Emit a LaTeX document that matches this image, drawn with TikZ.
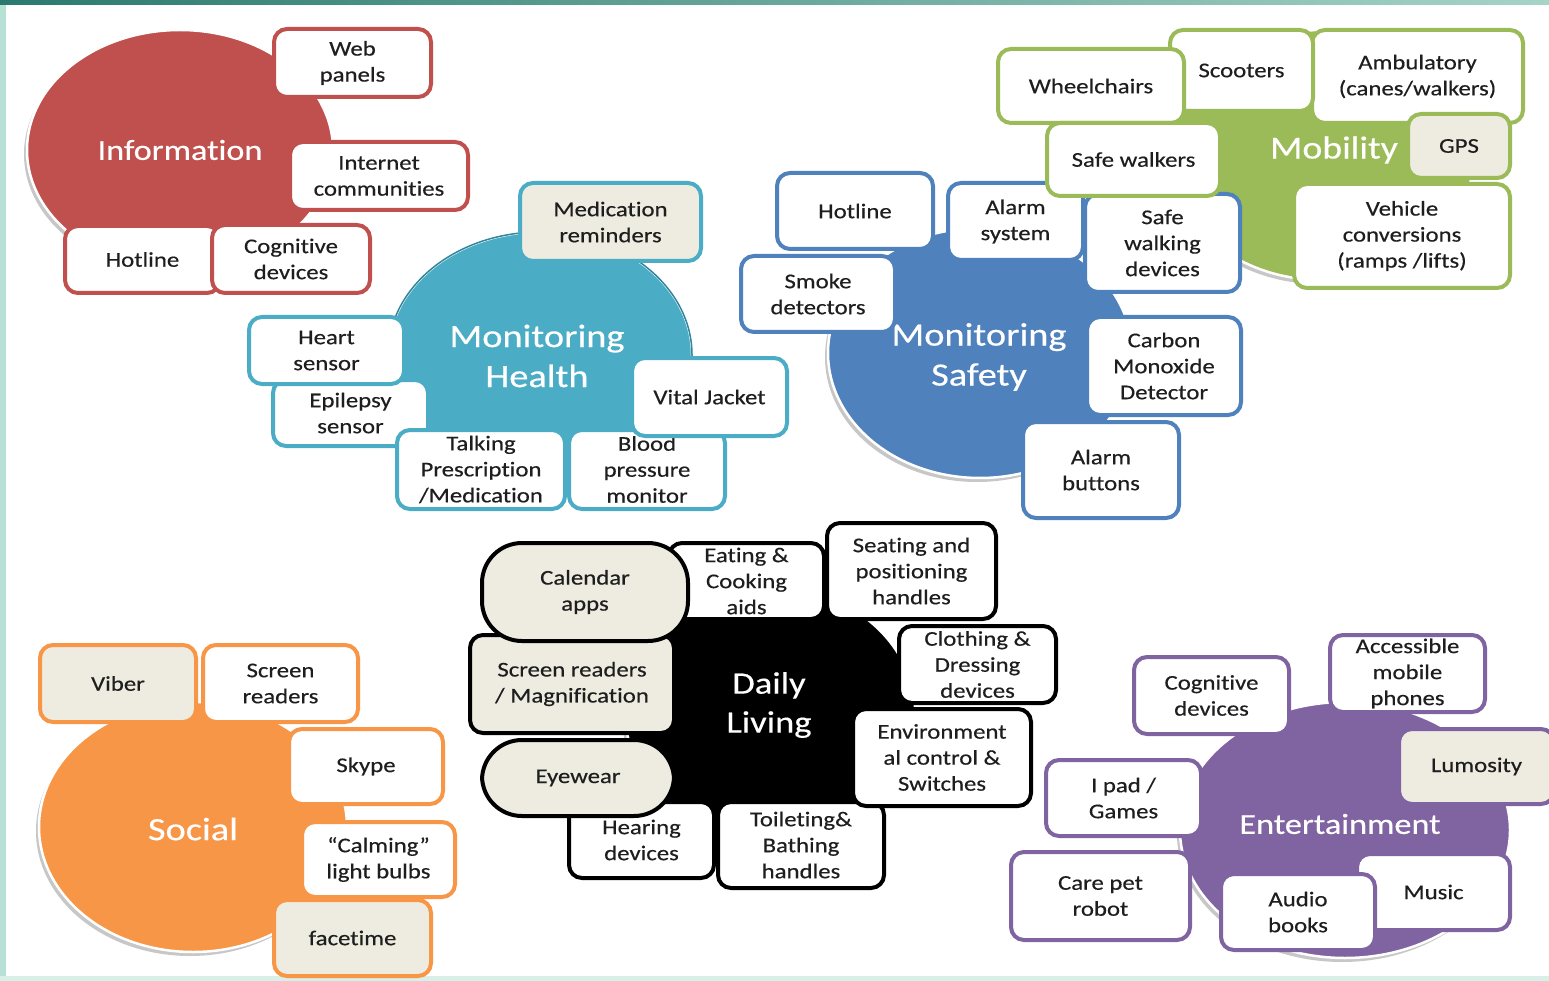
\documentclass[tikz,border=0pt]{standalone}
\usepackage{fontspec}
\setmainfont[FakeStretch=1.18, FakeBold=0.4, Ligatures=NoCommon]{Carlito}
\usetikzlibrary{shapes.geometric,shadows}
\definecolor{cRed}{HTML}{C0504D}
\definecolor{cTeal}{HTML}{4BACC6}
\definecolor{cTealD}{HTML}{31859C}
\definecolor{cBlue}{HTML}{4F81BD}
\definecolor{cGreen}{HTML}{9BBB59}
\definecolor{cOrange}{HTML}{F79646}
\definecolor{cPurple}{HTML}{8064A2}
\definecolor{beige}{HTML}{EEECE1}
\definecolor{txt}{HTML}{1E1E1E}
\definecolor{bandL}{HTML}{2B7A6F}
\definecolor{bandR}{HTML}{A6D4C6}
\definecolor{mint}{HTML}{B7E1D4}
\definecolor{mintB}{HTML}{D8F0E7}
\tikzset{
  itm/.style={draw=#1, rounded corners=13pt, line width=4pt, fill=white, align=center,
    inner sep=0pt, text=txt, font=\fontsize{21}{26}\selectfont},
  itmb/.style={itm=#1, fill=beige},
  stad/.style={itm=black, fill=beige, rounded corners=40pt},
  hub/.style={ellipse, inner sep=0pt, fill=#1, draw=white, line width=2.5pt,
    drop shadow={shadow xshift=-3pt, shadow yshift=-4pt, opacity=.22, fill=black}},
  hublbl/.style={text=white, align=center},
}
\newcommand\itembox[7]{\node[#2, minimum width={#5-#3-4}, minimum height={#6-#4-4}] (#1) at ({(#3+#5)/2},{(#4+#6)/2}) {#7};}
\newcommand\hubnode[6]{\node[hub=#6, minimum width={2*#4}, minimum height={2*#5}] (#1) at (#2,#3) {};}
\begin{document}
\begin{tikzpicture}[x=1pt,y=-1pt]
\useasboundingbox (0,0) rectangle (1549,981);
\clip (0,0) rectangle (1549,981);
\fill[white] (0,0) rectangle (1549,981);
% slide frame
\shade[left color=bandL, right color=bandR] (0,0) rectangle (1549,5);
\fill[mint] (0,5) rectangle (6,981);
\fill[mintB] (0,976) rectangle (1549,981);
% hubs
\hubnode{info}{180}{150}{153}{120}{cRed}
\hubnode{health}{540}{355}{152}{123}{cTeal}
\node[ellipse, minimum width=304, minimum height=246, draw=cTealD, line width=1.5pt] (healthrim) at (540,355) {};
\hubnode{safety}{980}{353}{152}{125}{cBlue}
\hubnode{mobil}{1322}{155}{152}{125}{cGreen}
\hubnode{daily}{770}{712}{145}{125}{black}
\hubnode{social}{193}{827}{154}{125}{cOrange}
\hubnode{enter}{1345}{830}{165}{128}{cPurple}
% hub labels
\node[hublbl, font=\fontsize{29}{36}\selectfont] (infoL) at (180,150) {Information};
\node[hublbl, font=\fontsize{32.5}{40}\selectfont] (healthL) at (537,356) {Monitoring\\Health};
\node[hublbl, font=\fontsize{32.5}{40}\selectfont] (safetyL) at (979,357) {Monitoring\\Safety};
\node[hublbl, font=\fontsize{32}{40}\selectfont] (mobilL) at (1334,150) {Mobility};
\node[hublbl, font=\fontsize{31}{39}\selectfont] (dailyL) at (769,705) {Daily\\Living};
\node[hublbl, font=\fontsize{32.5}{40}\selectfont] (socialL) at (193,829) {Social};
\node[hublbl, font=\fontsize{29}{36}\selectfont] (enterL) at (1340,824) {Entertainment};
% Information
\itembox{webp}{itm=cRed}{272}{27}{433}{99}{Web\\panels}
\itembox{inet}{itm=cRed}{288}{140}{470}{212}{Internet\\communities}
\itembox{ihot}{itm=cRed}{63}{224}{222}{295}{Hotline}
\itembox{icog}{itm=cRed}{210}{223}{372}{295}{Cognitive\\devices}
% Monitoring Health
\itembox{medr}{itmb=cTeal}{518}{181}{703}{263}{Medication\\reminders}
\itembox{epil}{itm=cTeal}{271}{378}{430}{448}{Epilepsy\\sensor}
\itembox{hrt}{itm=cTeal}{247}{315}{406}{386}{Heart\\sensor}
\itembox{talk}{itm=cTeal}{395}{428}{567}{511}{Talking\\Prescription\\/Medication}
\itembox{blood}{itm=cTeal}{567}{428}{727}{511}{Blood\\pressure\\monitor}
\itembox{vital}{itm=cTeal}{630}{356}{789}{438}{Vital Jacket}
% Daily Living
\itembox{eat}{itm=black}{667}{541}{826}{621}{Eating \&\\Cooking\\aids}
\itembox{scr}{itmb=black}{468}{633}{676}{735}{Screen readers\\/ Magnification}
\itembox{cal}{stad}{480}{541}{690}{643}{Calendar\\apps}
\itembox{seat}{itm=black}{825}{521}{998}{621}{Seating and\\positioning\\handles}
\itembox{cloth}{itm=black}{897}{624}{1058}{705}{Clothing \&\\Dressing\\devices}
\itembox{hear}{itm=black}{567}{800}{716}{880}{Hearing\\devices}
\itembox{eye}{stad}{480}{738}{676}{818}{Eyewear}
\itembox{toil}{itm=black}{716}{800}{886}{890}{Toileting\&\\Bathing\\handles}
\itembox{env}{itm=black}{851}{707}{1033}{808}{Environment\\al control \&\\Switches}
% Social
\itembox{viber}{itmb=cOrange}{38}{643}{198}{724}{Viber}
\itembox{sscr}{itm=cOrange}{201}{643}{360}{724}{Screen\\readers}
\itembox{skype}{itm=cOrange}{287}{727}{445}{806}{Skype}
\itembox{calm}{itm=cOrange}{300}{820}{457}{899}{“Calming”\\light bulbs}
\itembox{face}{itmb=cOrange}{272}{898}{433}{978}{facetime}
% Entertainment
\itembox{ecog}{itm=cPurple}{1132}{655}{1291}{736}{Cognitive\\devices}
\itembox{acc}{itm=cPurple}{1328}{633}{1487}{714}{Accessible\\mobile\\phones}
\itembox{lumo}{itmb=cPurple}{1397}{727}{1556}{806}{Lumosity}
\itembox{ipad}{itm=cPurple}{1044}{758}{1203}{838}{I pad /\\Games}
\itembox{care}{itm=cPurple}{1009}{850}{1192}{942}{Care pet\\robot}
\itembox{music}{itm=cPurple}{1355}{852}{1512}{932}{Music}
\itembox{audio}{itm=cPurple}{1219}{872}{1377}{952}{Audio\\books}
% Monitoring Safety
\itembox{shot}{itm=cBlue}{775}{171}{935}{251}{Hotline}
\itembox{smoke}{itm=cBlue}{739}{254}{897}{334}{Smoke\\detectors}
\itembox{alsys}{itm=cBlue}{946}{181}{1085}{262}{Alarm\\system}
\itembox{swd}{itm=cBlue}{1083}{192}{1242}{294}{Safe\\walking\\devices}
\itembox{co}{itm=cBlue}{1085}{315}{1243}{417}{Carbon\\Monoxide\\Detector}
\itembox{albut}{itm=cBlue}{1021}{420}{1181}{520}{Alarm\\buttons}
% Mobility
\itembox{amb}{itm=cGreen}{1310}{28}{1525}{125}{Ambulatory\\(canes/walkers)}
\itembox{scoot}{itm=cGreen}{1168}{28}{1315}{113}{Scooters}
\itembox{wheel}{itm=cGreen}{996}{47}{1186}{125}{Wheelchairs}
\itembox{swalk}{itm=cGreen}{1045}{121}{1222}{198}{Safe walkers}
\itembox{gps}{itmb=cGreen}{1406}{112}{1512}{180}{GPS}
\itembox{veh}{itm=cGreen}{1292}{182}{1512}{290}{Vehicle\\conversions\\(ramps /lifts)}
\end{tikzpicture}
\end{document}
